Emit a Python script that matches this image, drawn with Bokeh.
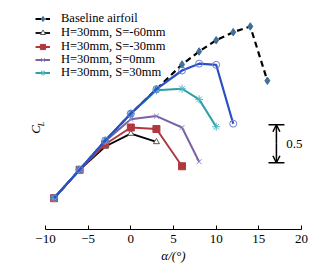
import numpy as np
from bokeh.plotting import figure
from bokeh.models import (Legend, LegendItem, Label, Arrow, OpenHead, Range1d,
                          FixedTicker)
from bokeh.embed import file_html
from bokeh.resources import INLINE

# ---------------- data ----------------
alpha_base = [-9, -6, -3, 0, 3, 6, 8, 10, 12, 14, 16]
cl_base = [-0.60, -0.226, 0.155, 0.511, 0.834, 1.159, 1.330, 1.479, 1.584, 1.659, 0.945]

alpha_m60 = [-9, -6, -3, 0, 3]
cl_m60 = [-0.60, -0.226, 0.08, 0.25, 0.14]

alpha_m30 = [-9, -6, -3, 0, 3, 6]
cl_m30 = [-0.60, -0.226, 0.11, 0.33, 0.31, -0.18]

alpha_0 = [-9, -6, -3, 0, 3, 6, 8]
cl_0 = [-0.60, -0.226, 0.15, 0.44, 0.48, 0.33, -0.12]

alpha_30 = [-9, -6, -3, 0, 3, 6, 8, 10]
cl_30 = [-0.60, -0.226, 0.155, 0.511, 0.82, 0.84, 0.70, 0.34]

alpha_60 = [-9, -6, -3, 0, 3, 6, 8, 10, 12]
cl_60 = [-0.60, -0.226, 0.159, 0.514, 0.834, 1.08, 1.17, 1.155, 0.38]

labels = ["Baseline airfoil", "H=30mm, S=-60mm", "H=30mm, S=-30mm",
          "H=30mm, S=0mm", "H=30mm, S=30mm"]
x_ticks = [-10, -5, 0, 5, 10, 15, 20]

SERIF = "Liberation Serif"

p = figure(width=328, height=266, output_backend="svg", toolbar_location=None,
           x_range=Range1d(-12.344, 22.344), y_range=Range1d(-1.012, 2.001),
           min_border_left=25, min_border_right=7, min_border_top=0,
           min_border_bottom=37)
p.outline_line_color = None
p.xgrid.visible = False
p.ygrid.visible = False
p.yaxis.visible = False
p.background_fill_color = "white"

ax = p.xaxis[0]
ax.bounds = (-10, 20)
ax.ticker = FixedTicker(ticks=x_ticks)
ax.major_tick_in = 4
ax.major_tick_out = 0
ax.minor_tick_line_color = None
ax.axis_line_color = "black"
ax.major_tick_line_color = "black"
ax.major_label_text_font = SERIF
ax.major_label_text_font_size = "13px"
ax.major_label_text_color = "black"
ax.major_label_standoff = 5
ax.axis_label = "α/(°)"
ax.axis_label_text_font = SERIF
ax.axis_label_text_font_style = "italic"
ax.axis_label_text_font_size = "13px"
ax.axis_label_standoff = 2
ax.axis_label_text_color = "black"

# ---------------- series ----------------
r_base_l = p.line(alpha_base, cl_base, line_color="black", line_width=2.2, line_dash="6 4")
r_base_m = p.scatter(alpha_base, cl_base, marker="diamond", size=7.5,
                     fill_color="#3d6f99", line_color="#3d6f99")

r_m60_l = p.line(alpha_m60, cl_m60, line_color="black", line_width=1.8)
r_m60_m = p.scatter(alpha_m60, cl_m60, marker="triangle", size=6,
                    fill_color="white", line_color="#555555")

r_m30_l = p.line(alpha_m30, cl_m30, line_color="#b0383e", line_width=2)
r_m30_m = p.scatter(alpha_m30, cl_m30, marker="square", size=7,
                    fill_color="#b0383e", line_color="#b0383e")

r_0_l = p.line(alpha_0, cl_0, line_color="#7a62a8", line_width=2)
r_0_m = p.scatter(alpha_0, cl_0, marker="x", size=7, line_color="#8c86c0")

r_30_l = p.line(alpha_30, cl_30, line_color="#2b9ea6", line_width=2)
r_30_m = p.scatter(alpha_30, cl_30, marker="asterisk", size=8, line_color="#4fb6c0")

r_60_l = p.line(alpha_60, cl_60, line_color="#2a4fc4", line_width=2.2)
r_60_m = p.scatter(alpha_60, cl_60, marker="circle", size=7,
                   fill_color=None, line_color="#6a7fd8")

# one single-row legend per entry, so that rows sit at the reference's spacing
legend_renderers = [[r_base_l, r_base_m], [r_m60_l, r_m60_m], [r_m30_l, r_m30_m],
                    [r_0_l, r_0_m], [r_30_l, r_30_m]]
legend_bottoms = [203, 189, 175, 162, 149]
for lab, rends, yb in zip(labels, legend_renderers, legend_bottoms):
    lg = Legend(items=[LegendItem(label=lab, renderers=rends)], location=(10, yb))
    lg.padding = 0
    lg.margin = 0
    lg.spacing = 0
    lg.label_height = 13
    lg.glyph_height = 13
    lg.glyph_width = 15
    lg.label_standoff = 11
    lg.label_text_font = SERIF
    lg.label_text_font_size = "12.5px"
    lg.label_text_color = "black"
    lg.border_line_color = None
    lg.background_fill_alpha = 0
    p.add_layout(lg, "center")

# ---------------- C_L label ----------------
p.add_layout(Label(x=-11.17, y=0.304, text="C", angle=np.pi / 2, text_font=SERIF,
                   text_font_style="italic", text_font_size="13px",
                   text_align="center", text_baseline="middle", text_color="black"))
p.add_layout(Label(x=-10.5, y=0.375, text="L", angle=np.pi / 2, text_font=SERIF,
                   text_font_style="italic", text_font_size="8px",
                   text_align="center", text_baseline="middle", text_color="black"))

# ---------------- scale bar (0.5) ----------------
bar_bottom, bar_top = -0.134, 0.366
p.add_layout(Arrow(x_start=17.06, y_start=(bar_bottom + bar_top) / 2, x_end=17.06, y_end=bar_top,
                   line_width=1.5, line_color="black",
                   end=OpenHead(size=7, line_width=1.5, line_color="black")))
p.add_layout(Arrow(x_start=17.06, y_start=(bar_bottom + bar_top) / 2, x_end=17.06, y_end=bar_bottom,
                   line_width=1.5, line_color="black",
                   end=OpenHead(size=7, line_width=1.5, line_color="black")))
p.segment(x0=[16.13, 16.13], y0=[bar_top, bar_bottom], x1=[18.0, 18.0], y1=[bar_top, bar_bottom],
          line_color="black", line_width=1.5)
p.add_layout(Label(x=18.2, y=(bar_bottom + bar_top) / 2, text="0.5", text_font=SERIF,
                   text_font_size="13px", text_baseline="middle", text_color="black"))

open("out.html", "w").write(file_html(p, INLINE))
